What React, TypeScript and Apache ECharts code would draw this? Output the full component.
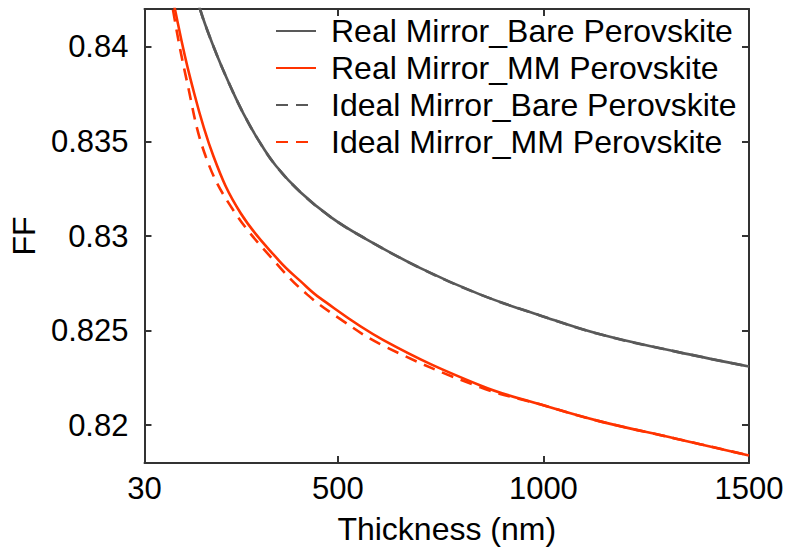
import React, { useEffect, useRef } from "react";
import * as echarts from "echarts";

// Thickness (nm) and FF values
const realBareT = [140, 165, 200, 235, 270, 309, 350, 410, 483, 556, 701, 847, 992, 1138, 1320, 1500];
const realBareFF = [0.8441, 0.842, 0.8399, 0.8381, 0.8365, 0.835, 0.8337, 0.8323, 0.831, 0.83, 0.8283, 0.8269, 0.8258, 0.8248, 0.8239, 0.8231];

const realMMT = [80, 104, 143, 198, 264, 357, 410, 458, 611, 847, 992, 1138, 1320, 1500];
const realMMFF = [0.8448, 0.842, 0.8382, 0.8342, 0.8312, 0.8287, 0.8276, 0.8267, 0.8245, 0.8221, 0.8211, 0.8202, 0.8193, 0.8184];

const idealBareT = realBareT;
const idealBareFF = realBareFF;

const idealMMT = [78, 99, 133, 179, 248, 357, 426, 500, 611, 847, 992, 1138, 1320, 1500];
const idealMMFF = [0.8451, 0.842, 0.8382, 0.8342, 0.8313, 0.8284, 0.8269, 0.8257, 0.8242, 0.822, 0.8211, 0.8202, 0.8193, 0.8184];

const xTicks = [30, 500, 1000, 1500];
const yTicks = [0.82, 0.825, 0.83, 0.835, 0.84];

const seriesNames = [
  "Real Mirror_Bare Perovskite",
  "Real Mirror_MM Perovskite",
  "Ideal Mirror_Bare Perovskite",
  "Ideal Mirror_MM Perovskite",
];

const GRAY = "#595959";
const RED = "#ff3300";
const AXIS = "#333333";
const FONT = "'Liberation Sans', Arial, Helvetica, sans-serif";

const pairs = (xs: number[], ys: number[]) => xs.map((x, i) => [x, ys[i]]);

export default function App() {
  const ref = useRef<HTMLDivElement>(null);
  useEffect(() => {
    document.body.style.margin = "0";
    const chart = echarts.init(ref.current!, null, { renderer: "svg" });
    const lineSeries = (name: string, data: number[][], color: string, dashed: boolean, z: number) => ({
      name,
      type: "line",
      data,
      symbol: "none",
      smooth: 0.4,
      clip: true,
      z,
      lineStyle: { color, width: 2.6, type: dashed ? [12, 8] : "solid" },
      itemStyle: { color },
    });
    const xBase = {
      type: "value",
      min: 30,
      max: 1500,
      axisLine: { show: true, onZero: false, lineStyle: { color: AXIS, width: 2 } },
      splitLine: { show: false },
    };
    const yBase = {
      type: "value",
      min: 0.818,
      max: 0.842,
      axisLine: { show: true, onZero: false, lineStyle: { color: AXIS, width: 2 } },
      splitLine: { show: false },
    };
    chart.setOption({
      animation: false,
      backgroundColor: "#ffffff",
      textStyle: { fontFamily: FONT },
      grid: { left: 143.5, right: 39, top: 9, bottom: 93 },
      legend: {
        orient: "vertical",
        left: 270,
        top: 10,
        itemWidth: 40,
        itemHeight: 14,
        itemGap: 5,
        data: seriesNames,
        itemStyle: { color: "rgba(0,0,0,0)", borderWidth: 0, opacity: 0 },
        textStyle: { fontFamily: FONT, fontSize: 32, color: "#000", lineHeight: 30.5, padding: [0, 0, 0, 10] },
      },
      xAxis: [
        {
          ...xBase,
          position: "bottom",
          name: "Thickness (nm)",
          nameLocation: "middle",
          nameGap: 50,
          nameTextStyle: { fontFamily: FONT, fontSize: 32, color: "#000" },
          axisTick: { show: true, inside: true, length: 7, customValues: xTicks, lineStyle: { color: AXIS, width: 2 } },
          axisLabel: {
            show: true,
            customValues: xTicks,
            margin: 10,
            showMinLabel: true,
            showMaxLabel: true,
            fontFamily: FONT,
            fontSize: 31,
            color: "#000",
            formatter: (v: number) => String(Math.round(Number(v))),
          },
        },
        {
          ...xBase,
          position: "top",
          axisTick: { show: true, inside: true, length: 7, customValues: xTicks, lineStyle: { color: AXIS, width: 2 } },
          axisLabel: { show: false },
        },
      ],
      yAxis: [
        {
          ...yBase,
          position: "left",
          name: "FF",
          nameLocation: "middle",
          nameGap: 96,
          nameRotate: 90,
          nameTextStyle: { fontFamily: FONT, fontSize: 32, color: "#000" },
          axisTick: { show: true, inside: true, length: 7, customValues: yTicks, lineStyle: { color: AXIS, width: 2 } },
          axisLabel: {
            show: true,
            customValues: yTicks,
            margin: 16,
            fontFamily: FONT,
            fontSize: 31,
            color: "#000",
            formatter: (v: number) => String(+Number(v).toFixed(3)),
          },
        },
        {
          ...yBase,
          position: "right",
          axisTick: { show: true, inside: true, length: 7, customValues: yTicks, lineStyle: { color: AXIS, width: 2 } },
          axisLabel: { show: false },
        },
      ],
      series: [
        lineSeries(seriesNames[0], pairs(realBareT, realBareFF), GRAY, false, 2),
        lineSeries(seriesNames[1], pairs(realMMT, realMMFF), RED, false, 3),
        lineSeries(seriesNames[2], pairs(idealBareT, idealBareFF), GRAY, true, 4),
        lineSeries(seriesNames[3], pairs(idealMMT, idealMMFF), RED, true, 5),
      ],
    });
    return () => chart.dispose();
  }, []);
  return <div ref={ref} style={{ width: 788, height: 556 }} />;
}
